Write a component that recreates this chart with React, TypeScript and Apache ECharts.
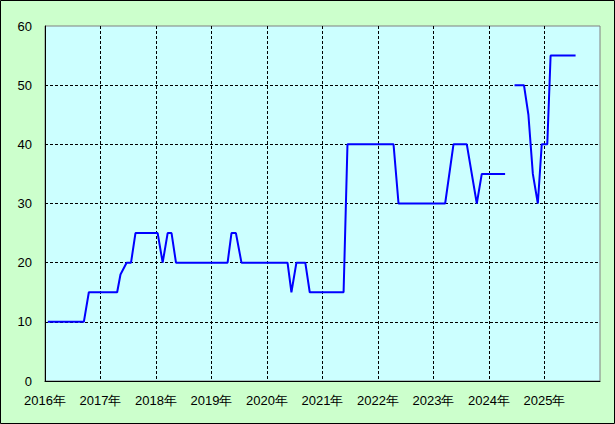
import React, { useEffect, useRef } from "react";
import * as echarts from "echarts";

// x positions in decimal years, values (null = gap)
const xYears: number[] = [
  2016.05, 2016.7, 2016.79, 2017.3, 2017.36, 2017.47, 2017.55, 2017.63,
  2018.03, 2018.12, 2018.21, 2018.28, 2018.36, 2019.29, 2019.36, 2019.44,
  2019.54, 2020.37, 2020.44, 2020.53, 2020.69, 2020.77, 2021.38, 2021.45,
  2022.28, 2022.37, 2023.21, 2023.36, 2023.6, 2023.78, 2023.87, 2024.29,
  2024.37, 2024.46, 2024.63, 2024.71, 2024.79, 2024.88, 2024.95, 2025.05,
  2025.11, 2025.56,
];
const values: (number | null)[] = [
  10, 10, 15, 15, 18, 20, 20, 25,
  25, 20, 25, 25, 20, 20, 25, 25,
  20, 20, 15, 20, 20, 15, 15, 40,
  40, 30, 30, 40, 40, 30, 35, 35,
  null, 50, 50, 45, 35, 30, 40, 40,
  55, 55,
];
const yearMin = 2016;
const yearMax = 2026;
const yMin = 0;
const yMax = 60;
const yStep = 10;

export default function App() {
  const ref = useRef<HTMLDivElement>(null);
  useEffect(() => {
    if (!ref.current) return;
    const chart = echarts.init(ref.current, null, { renderer: "svg" });
    const data = xYears.map((x, i) => [x, values[i] === null ? "-" : values[i]]);
    const font = "'Liberation Sans', Arial, sans-serif";
    chart.setOption({
      animation: false,
      backgroundColor: "#ccffcc",
      grid: {
        left: 45,
        top: 26,
        right: 15,
        bottom: 43,
        show: true,
        backgroundColor: "#ccffff",
        borderColor: "#808080",
        borderWidth: 1,
      },
      xAxis: {
        type: "value",
        min: yearMin,
        max: yearMax,
        interval: 1,
        axisLine: { show: true, onZero: false, lineStyle: { color: "#000", width: 1 } },
        axisTick: { show: false },
        axisLabel: {
          color: "#000",
          fontSize: 13,
          fontFamily: font,
          margin: 13,
          showMaxLabel: false,
          formatter: (v: number) => `${v}年`,
        },
        splitLine: {
          show: true,
          showMinLine: false,
          showMaxLine: false,
          lineStyle: { color: "#000", type: [3, 2], width: 1 },
        },
      },
      yAxis: {
        type: "value",
        min: yMin,
        max: yMax,
        interval: yStep,
        axisLine: { show: true, lineStyle: { color: "#000", width: 1 } },
        axisTick: { show: false },
        axisLabel: { color: "#000", fontSize: 13, fontFamily: font, margin: 13 },
        splitLine: {
          show: true,
          showMinLine: false,
          showMaxLine: false,
          lineStyle: { color: "#000", type: [3, 2], width: 1 },
        },
      },
      graphic: [
        {
          type: "rect",
          shape: { x: 0.5, y: 0.5, width: 614, height: 423 },
          style: { fill: "none", stroke: "#000", lineWidth: 1 },
          silent: true,
          z: 100,
        },
      ],
      series: [
        {
          type: "line",
          data,
          showSymbol: false,
          connectNulls: false,
          lineStyle: { color: "#0000ff", width: 2 },
          itemStyle: { color: "#0000ff" },
        },
      ],
    });
    return () => chart.dispose();
  }, []);
  return (
    <div
      ref={ref}
      style={{ position: "fixed", left: 0, top: 0, width: 615, height: 424 }}
    />
  );
}
